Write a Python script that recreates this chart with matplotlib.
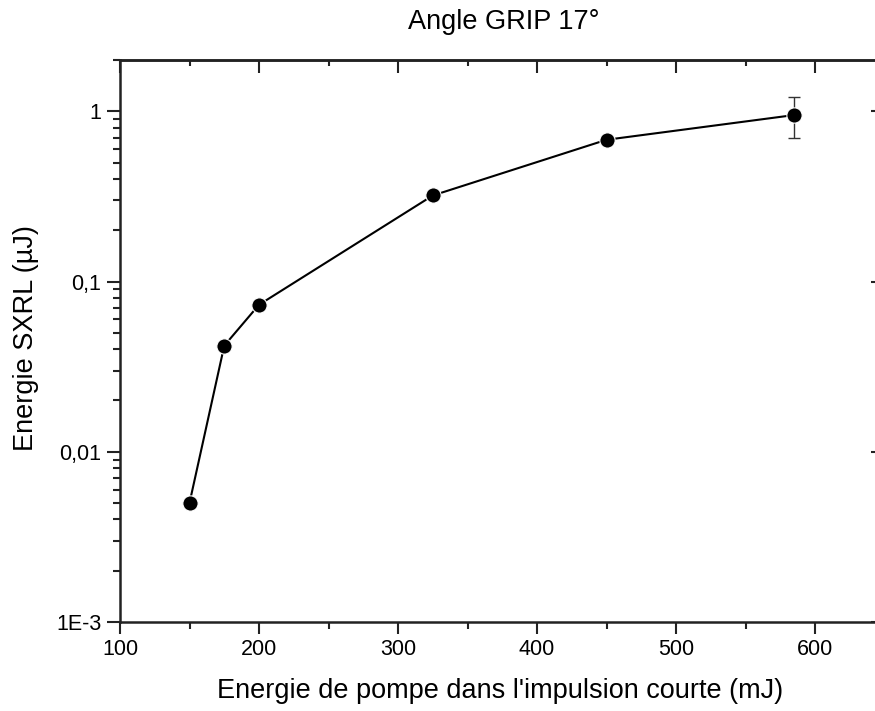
import matplotlib
matplotlib.use("Agg")
import matplotlib.pyplot as plt
from matplotlib.ticker import FixedLocator, FixedFormatter, LogLocator, NullFormatter, MultipleLocator

plt.rcParams['font.family'] = ['Liberation Sans', 'DejaVu Sans']

# Pump energy in the short pulse (mJ) and measured SXRL energy (µJ)
pump_energy = [150, 175, 200, 325, 450, 585]
sxrl_energy = [0.005, 0.042, 0.073, 0.32, 0.68, 0.95]
# Asymmetric error on the last point only (lower, upper)
err_low = [0, 0, 0, 0, 0, 0.25]
err_high = [0, 0, 0, 0, 0, 0.27]

y_ticks = [1e-3, 1e-2, 1e-1, 1]
y_tick_labels = ["1E-3", "0,01", "0,1", "1"]
x_ticks = [100, 200, 300, 400, 500, 600]

W, H = 875, 711
fig = plt.figure(figsize=(W / 100, H / 100), dpi=100)
ax = fig.add_axes([120 / W, 89 / H, 764 / W, 562 / H])

ax.plot(pump_energy, sxrl_energy, color='black', lw=1.5, zorder=2)
ax.errorbar(pump_energy, sxrl_energy, yerr=[err_low, err_high], fmt='none',
            ecolor='#333333', elinewidth=1.0, capsize=4.5, capthick=1.0, zorder=2)
ax.plot(pump_energy, sxrl_energy, 'o', color='black', ms=11,
        mec='white', mew=0.8, zorder=3)

ax.set_yscale('log')
ax.set_xlim(100, 649.6)
ax.set_ylim(1e-3, 2.0)

ax.yaxis.set_major_locator(FixedLocator(y_ticks))
ax.yaxis.set_major_formatter(FixedFormatter(y_tick_labels))
ax.yaxis.set_minor_locator(LogLocator(base=10, subs=range(2, 10)))
ax.yaxis.set_minor_formatter(NullFormatter())
ax.xaxis.set_major_locator(FixedLocator(x_ticks))
ax.xaxis.set_minor_locator(MultipleLocator(50))

for s in ax.spines.values():
    s.set_linewidth(1.8)
    s.set_color('#222222')

ax.tick_params(axis='y', which='major', direction='out', length=9.5,
               width=1.5, labelsize=15.5, color='#222222', pad=4)
ax.tick_params(axis='x', which='major', direction='out', length=8.5,
               width=1.5, labelsize=15.5, color='#222222')
ax.tick_params(axis='both', which='minor', direction='out', length=5,
               width=1.5, color='#222222')

# Mirrored ticks on the top and right sides, pointing inwards
top = ax.secondary_xaxis('top')
top.xaxis.set_major_locator(FixedLocator(x_ticks))
top.xaxis.set_minor_locator(MultipleLocator(50))
top.tick_params(which='major', direction='in', length=9, width=1.5,
                labeltop=False, color='#222222')
top.tick_params(which='minor', direction='in', length=4.5, width=1.5, color='#222222')
top.spines['top'].set_linewidth(1.8)
top.spines['top'].set_color('#222222')

right = ax.secondary_yaxis('right')
right.yaxis.set_major_locator(FixedLocator(y_ticks))
right.yaxis.set_minor_locator(LogLocator(base=10, subs=range(2, 10)))
right.yaxis.set_minor_formatter(NullFormatter())
right.tick_params(which='major', direction='in', length=9.5, width=1.5,
                  labelright=False, color='#222222')
right.tick_params(which='minor', direction='in', length=5, width=1.5, color='#222222')

fig.text(500 / W, 1 - 698 / H, "Energie de pompe dans l'impulsion courte (mJ)",
         fontsize=19.5, ha='center', va='baseline')
fig.text(33 / W, 1 - 338 / H, "Energie SXRL (µJ)", fontsize=19.5, rotation=90,
         rotation_mode='anchor', ha='center', va='baseline')
fig.text(504 / W, 1 - 29 / H, "Angle GRIP 17°", fontsize=19.5,
         ha='center', va='baseline')

fig.savefig("out.png", dpi=100)
